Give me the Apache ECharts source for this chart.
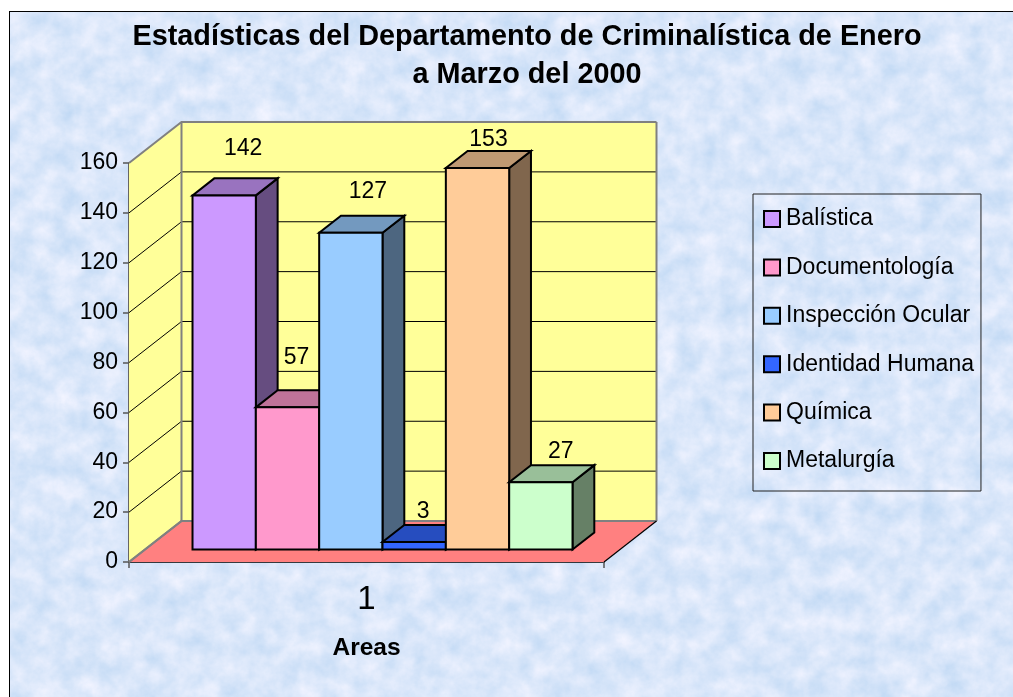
<!DOCTYPE html>
<html>
<head>
<meta charset="utf-8">
<title>Estadísticas del Departamento de Criminalística</title>
<style>
  html, body { margin: 0; padding: 0; background: #fff; }
  #paper { position: absolute; left: 9px; top: 11px; width: 1004px; height: 686px; border-left: 1px solid #000; border-top: 1px solid #000; box-sizing: border-box; overflow: hidden; }
  #paper svg { display: block; }
  #chart { position: absolute; left: 0; top: 0; width: 1013px; height: 697px; }
</style>
<script src="https://cdn.jsdelivr.net/npm/echarts@6/dist/echarts.min.js"></script>
</head>
<body>
<div id="paper">
  <svg width="1004" height="686" xmlns="http://www.w3.org/2000/svg">
    <filter id="mottle" x="0" y="0" width="100%" height="100%" color-interpolation-filters="sRGB">
      <feTurbulence type="fractalNoise" baseFrequency="0.045" numOctaves="5" seed="11"></feTurbulence>
      <feColorMatrix type="matrix" values="0.22 0 0 0 0.745  0.12 0 0 0 0.845  0.05 0 0 0 0.955  0 0 0 0 1"></feColorMatrix>
    </filter>
    <rect width="1004" height="686" filter="url(#mottle)"></rect>
  </svg>
</div>
<div id="chart"></div>
<script>
const categories = ["1"];
const seriesNames = ["Balística", "Documentología", "Inspección Ocular", "Identidad Humana", "Química", "Metalurgía"];
const seriesValues = [142, 57, 127, 3, 153, 27];
const tickValues = [0, 20, 40, 60, 80, 100, 120, 140, 160];
const seriesColors = ["#CC99FF", "#FF99CC", "#99CCFF", "#3366FF", "#FFCC99", "#CCFFCC"];
// the labels do not sit at a fixed spot over the bars in the original
const labelNudge = [[19, -30], [9, -33], [17, -24], [9, -13], [11, -11], [20, -13.5]];

const FONT = '"Liberation Sans", Arial, sans-serif';
const DEPTH_X = 52.5;
const DEPTH_Y = 41;
const BAR_FRONT = 0.305;
const BAR_DEPTH = 0.415;

function shade(hex, k) {
  let n = parseInt(hex.slice(1), 16);
  let r = Math.round((n >> 16) * k);
  let g = Math.round(((n >> 8) & 255) * k);
  let b = Math.round((n & 255) * k);
  return "rgb(" + r + "," + g + "," + b + ")";
}

function poly(points, fill, stroke, lineWidth) {
  return {
    type: "polygon",
    shape: { points: points },
    style: { fill: fill, stroke: stroke, lineWidth: lineWidth, lineJoin: "miter" }
  };
}

function line(points, stroke, lineWidth) {
  return {
    type: "polyline",
    shape: { points: points },
    style: { fill: "none", stroke: stroke, lineWidth: lineWidth }
  };
}

// walls and floor of the box
function renderBox(params, api) {
  let band = api.size([1, 0])[0];
  let mid = api.coord([0, 0]);
  let x0 = mid[0] - band / 2;
  let x1 = mid[0] + band / 2;
  let y0 = mid[1];
  let y1 = api.coord([0, tickValues[tickValues.length - 1]])[1];
  let bx0 = x0 + DEPTH_X, bx1 = x1 + DEPTH_X;
  let by0 = y0 - DEPTH_Y, by1 = y1 - DEPTH_Y;
  return {
    type: "group",
    children: [
      poly([[x0, y0], [x0, y1], [bx0, by1], [bx0, by0]], "#FFFF99", "none", 0),
      poly([[bx0, by0], [bx0, by1], [bx1, by1], [bx1, by0]], "#FFFF99", "none", 0),
      poly([[x0, y0], [x1, y0], [bx1, by0], [bx0, by0]], "#FF8080", "none", 0)
    ]
  };
}

// one grid line per tick, bent along side wall and back wall
function renderGridLine(params, api) {
  let band = api.size([1, 0])[0];
  let p = api.coord([0, api.value(0)]);
  let x0 = p[0] - band / 2;
  let x1 = p[0] + band / 2;
  let y = p[1];
  let isTop = params.dataIndex == tickValues.length - 1;
  let isBottom = params.dataIndex == 0;
  let color = isTop || isBottom ? "#808080" : "#000";
  return {
    type: "group",
    children: [
      line([[x0, y], [x0 + DEPTH_X, y - DEPTH_Y], [x1 + DEPTH_X, y - DEPTH_Y]], color, isTop || isBottom ? 2 : 1)
    ]
  };
}

// edges drawn once the grid lines are down
function renderEdges(params, api) {
  let band = api.size([1, 0])[0];
  let mid = api.coord([0, 0]);
  let x0 = mid[0] - band / 2;
  let x1 = mid[0] + band / 2;
  let y0 = mid[1];
  let y1 = api.coord([0, tickValues[tickValues.length - 1]])[1];
  return {
    type: "group",
    children: [
      line([[x0 + DEPTH_X, y0 - DEPTH_Y], [x0 + DEPTH_X, y1 - DEPTH_Y]], "#808080", 2),
      line([[x1 + DEPTH_X, y0 - DEPTH_Y], [x1 + DEPTH_X, y1 - DEPTH_Y]], "#808080", 2),
      line([[x0, y0], [x0 + DEPTH_X, y0 - DEPTH_Y]], "#808080", 2),
      line([[x1, y0], [x1 + DEPTH_X, y0 - DEPTH_Y]], "#000", 1.2)
    ]
  };
}

function renderBar(index) {
  return function (params, api) {
    let top = api.coord([api.value(0), api.value(1)]);
    let base = api.coord([api.value(0), 0]);
    let barW = api.size([1, 0])[0] / 7.5;
    let x = top[0] - 3 * barW + index * barW + DEPTH_X * BAR_FRONT;
    let y0 = base[1] - DEPTH_Y * BAR_FRONT;
    let y1 = top[1] - DEPTH_Y * BAR_FRONT;
    let dx = DEPTH_X * BAR_DEPTH;
    let dy = DEPTH_Y * BAR_DEPTH;
    let color = seriesColors[index];
    let nudge = labelNudge[index];
    return {
      type: "group",
      children: [
        poly([[x + barW, y0], [x + barW, y1], [x + barW + dx, y1 - dy], [x + barW + dx, y0 - dy]], shade(color, 0.5), "#000", 2),
        poly([[x, y1], [x + barW, y1], [x + barW + dx, y1 - dy], [x + dx, y1 - dy]], shade(color, 0.75), "#000", 2),
        poly([[x, y0], [x, y1], [x + barW, y1], [x + barW, y0]], color, "#000", 2),
        {
          type: "text",
          style: {
            text: String(api.value(1)),
            x: x + barW / 2 + nudge[0],
            y: y1 - dy + nudge[1],
            fill: "#000",
            font: "23px " + FONT,
            align: "center",
            verticalAlign: "middle"
          }
        }
      ]
    };
  };
}

let series = [
  { type: "custom", name: "box", silent: true, clip: false, renderItem: renderBox, data: [[0]], z: 1 },
  { type: "custom", name: "gridLines", silent: true, clip: false, renderItem: renderGridLine, data: tickValues.map(v => [v]), encode: { y: 0 }, z: 2 },
  { type: "custom", name: "edges", silent: true, clip: false, renderItem: renderEdges, data: [[0]], z: 3 }
];
seriesNames.forEach(function (name, i) {
  series.push({
    type: "custom",
    name: name,
    clip: false,
    z: 4 + i,
    renderItem: renderBar(i),
    itemStyle: { color: seriesColors[i] },
    encode: { x: 0, y: 1 },
    data: [[0, seriesValues[i]]]
  });
});

let myChart = echarts.init(document.getElementById("chart"), null, { renderer: "canvas" });
myChart.setOption({
  backgroundColor: "transparent",
  animation: false,
  title: {
    text: "Estadísticas del Departamento de Criminalística de Enero\na Marzo del 2000",
    left: 527,
    top: 18.5,
    textAlign: "center",
    padding: 0,
    textStyle: { fontFamily: FONT, fontSize: 28.8, fontWeight: "bold", color: "#000", lineHeight: 38 }
  },
  legend: {
    orient: "vertical",
    left: 753,
    top: 194,
    data: seriesNames,
    icon: "rect",
    itemWidth: 16,
    itemHeight: 16,
    itemGap: 25.4,
    padding: [13.5, 7, 18.5, 10],
    borderColor: "#222",
    borderWidth: 1,
    itemStyle: { borderColor: "#000", borderWidth: 2 },
    textStyle: { fontFamily: FONT, fontSize: 23, color: "#000", padding: [0, 0, 4, 1] }
  },
  grid: { left: 129, right: 409, top: 163, bottom: 135 },
  xAxis: {
    type: "category",
    data: categories,
    name: "Areas",
    nameLocation: "middle",
    nameGap: 74,
    nameTextStyle: { fontFamily: FONT, fontSize: 24.5, fontWeight: "bold", color: "#000" },
    axisLine: { show: true, lineStyle: { color: "#000", width: 1.5 } },
    axisTick: { show: true, length: 6, lineStyle: { color: "#555", width: 1.5 } },
    axisLabel: { fontFamily: FONT, fontSize: 33, color: "#000", margin: 21 }
  },
  yAxis: {
    type: "value",
    min: 0,
    max: 160,
    interval: 20,
    axisLine: { show: true, lineStyle: { color: "#666", width: 2 } },
    axisTick: { show: true, length: 6, lineStyle: { color: "#555", width: 1.5 } },
    axisLabel: { fontFamily: FONT, fontSize: 23, color: "#000", margin: 11, padding: [5, 0, 0, 0] },
    splitLine: { show: false }
  },
  series: series
});
</script>
</body>
</html>
